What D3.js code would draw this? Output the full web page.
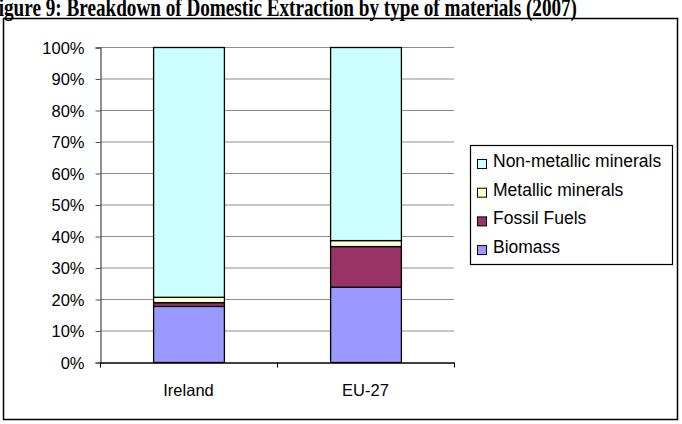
<!DOCTYPE html>
<html><head><meta charset="utf-8">
<script src="https://cdn.jsdelivr.net/npm/d3@7/dist/d3.min.js"></script>
<style>body{margin:0;background:#fff}svg{display:block}</style>
</head><body>
<script>
const titleText = "Figure 9: Breakdown of Domestic Extraction by type of materials (2007)";
const categories = ["Ireland", "EU-27"];
const seriesNames = ["Biomass", "Fossil Fuels", "Metallic minerals", "Non-metallic minerals"];
const biomass = [17.8, 23.9];
const fossilFuels = [1.2, 12.9];
const metallicMinerals = [1.7, 1.9];
const nonMetallicMinerals = [79.3, 61.3];
const yTicks = [0,10,20,30,40,50,60,70,80,90,100];
const colors = ["#9999FF", "#993366", "#FFFFCC", "#CCFFFF"];

const W = 682, H = 424;
const svg = d3.select("body").append("svg").attr("width", W).attr("height", H);
svg.append("rect").attr("width", W).attr("height", H).attr("fill", "#fff");

// title (top clipped like the reference)
svg.append("text").attr("x", -13).attr("y", 15.5)
  .attr("font-family", "Liberation Serif, Times New Roman, serif")
  .attr("font-weight", "bold").attr("font-size", 26)
  .attr("textLength", 590).attr("lengthAdjust", "spacingAndGlyphs")
  .text(titleText);

// outer frame
svg.append("rect").attr("x", 3.5).attr("y", 18.5).attr("width", 674).attr("height", 401)
  .attr("fill", "none").attr("stroke", "#000").attr("stroke-width", 1.5);

const plot = {l: 100, r: 454, t: 47, b: 362};
const x = d3.scaleBand().domain(categories).range([plot.l, plot.r]).padding(0);
const y = d3.scaleLinear().domain([0, 100]).range([plot.b, plot.t]);

// gridlines
svg.append("g").selectAll("line").data(yTicks.filter(d => d > 0)).join("line")
  .attr("x1", plot.l).attr("x2", plot.r)
  .attr("y1", d => y(d) + 0.5).attr("y2", d => y(d) + 0.5)
  .attr("stroke", "#8c8c8c").attr("stroke-width", 1);

// stacked data
const rows = categories.map((c, i) => ({
  cat: c,
  "Biomass": biomass[i],
  "Fossil Fuels": fossilFuels[i],
  "Metallic minerals": metallicMinerals[i],
  "Non-metallic minerals": nonMetallicMinerals[i]
}));
const stack = d3.stack().keys(seriesNames)(rows);
const barW = x.bandwidth() * 0.4;
stack.forEach((layer, li) => {
  svg.append("g").selectAll("rect").data(layer).join("rect")
    .attr("x", d => x(d.data.cat) + (x.bandwidth() - barW) / 2 + 0.5)
    .attr("y", d => y(d[1]) + 0.5)
    .attr("width", barW)
    .attr("height", d => y(d[0]) - y(d[1]))
    .attr("fill", colors[li]).attr("stroke", "#000").attr("stroke-width", 1.3);
});

// y axis
const yAxis = d3.axisLeft(y).tickValues(yTicks).tickSize(5).tickPadding(11)
  .tickFormat(d => d + "%");
const gy = svg.append("g").attr("transform", `translate(${plot.l + 0.5},0.5)`).call(yAxis);
gy.select(".domain").attr("stroke", "#555").attr("stroke-width", 1.3);
gy.selectAll(".tick line").attr("stroke", "#555");
gy.selectAll("text").attr("font-family", "Liberation Sans, Arial, sans-serif")
  .attr("font-size", 16.5).attr("fill", "#000").attr("dy", "0.36em");

// x axis
const xAxis = d3.axisBottom(x).tickSize(0).tickPadding(22);
const gx = svg.append("g").attr("transform", `translate(0,${plot.b + 0.5})`).call(xAxis);
gx.select(".domain").attr("stroke", "#000").attr("stroke-width", 1.3);
gx.selectAll("text").attr("font-family", "Liberation Sans, Arial, sans-serif")
  .attr("font-size", 16.5).attr("fill", "#000");
// category boundary ticks
const bounds = [plot.l].concat(categories.map(c => x(c) + x.bandwidth()));
gx.selectAll(".bt").data(bounds).join("line").attr("class", "bt")
  .attr("x1", d => d + 0.5).attr("x2", d => d + 0.5).attr("y1", 0).attr("y2", 5)
  .attr("stroke", "#000");

// legend
const lg = svg.append("g");
lg.append("rect").attr("x", 470.5).attr("y", 145.5).attr("width", 202).attr("height", 119)
  .attr("fill", "#fff").attr("stroke", "#000").attr("stroke-width", 1.2);
const legendOrder = seriesNames.slice().reverse();
legendOrder.forEach((name, i) => {
  const by = 167 + i * 28.7;
  lg.append("rect").attr("x", 477.5).attr("y", by - 7.5).attr("width", 9).attr("height", 9)
    .attr("fill", colors[seriesNames.indexOf(name)]).attr("stroke", "#000").attr("stroke-width", 1);
  lg.append("text").attr("x", 493).attr("y", by)
    .attr("font-family", "Liberation Sans, Arial, sans-serif").attr("font-size", 17.5)
    .attr("fill", "#000").text(name);
});
</script>
</body></html>
